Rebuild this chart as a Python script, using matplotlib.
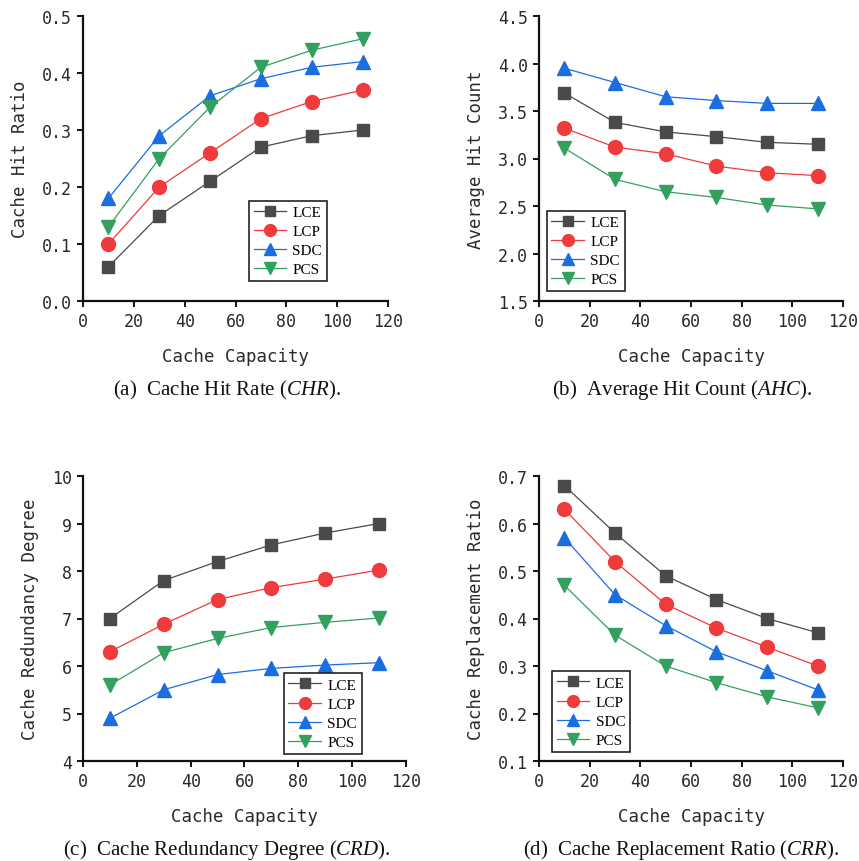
import matplotlib
matplotlib.use('Agg')
import matplotlib.pyplot as plt

plt.rcParams['mathtext.fontset'] = 'custom'
plt.rcParams['mathtext.rm'] = 'Liberation Serif'
plt.rcParams['mathtext.it'] = 'Liberation Serif:italic'

capacity = [10, 30, 50, 70, 90, 110]
methods = ['LCE', 'LCP', 'SDC', 'PCS']

chr_lce = [0.06, 0.15, 0.21, 0.27, 0.29, 0.30]
chr_lcp = [0.10, 0.20, 0.26, 0.32, 0.35, 0.37]
chr_sdc = [0.18, 0.29, 0.36, 0.39, 0.41, 0.42]
chr_pcs = [0.13, 0.25, 0.34, 0.41, 0.44, 0.46]

ahc_lce = [3.69, 3.38, 3.28, 3.23, 3.17, 3.15]
ahc_lcp = [3.32, 3.12, 3.05, 2.92, 2.85, 2.82]
ahc_sdc = [3.95, 3.80, 3.65, 3.61, 3.58, 3.58]
ahc_pcs = [3.11, 2.78, 2.65, 2.59, 2.51, 2.47]

crd_lce = [7.0, 7.8, 8.2, 8.55, 8.8, 9.0]
crd_lcp = [6.3, 6.88, 7.4, 7.65, 7.83, 8.02]
crd_sdc = [4.9, 5.5, 5.82, 5.95, 6.02, 6.07]
crd_pcs = [5.6, 6.28, 6.58, 6.81, 6.92, 7.01]

crr_lce = [0.68, 0.58, 0.49, 0.44, 0.40, 0.37]
crr_lcp = [0.63, 0.52, 0.43, 0.38, 0.34, 0.30]
crr_sdc = [0.57, 0.45, 0.385, 0.33, 0.29, 0.25]
crr_pcs = [0.47, 0.365, 0.30, 0.265, 0.235, 0.212]

colors = ['#4a4a4a', '#ef3b3b', '#1a6ee0', '#33a060']
markers = ['s', 'o', '^', 'v']
msizes = [8.6, 10, 10.5, 10.5]

mono = 'DejaVu Sans Mono'
serif = 'Liberation Serif'
txt_color = '#2a2a2a'

fig = plt.figure(figsize=(8.59, 8.62), dpi=100)
W, H = 859, 862


def px_axes(x0, y0, x1, y1):
    return fig.add_axes([x0 / W, 1 - y1 / H, (x1 - x0) / W, (y1 - y0) / H])


panels = [
    dict(box=(83, 17, 388, 302), data=[chr_lce, chr_lcp, chr_sdc, chr_pcs],
         ylim=(0.0, 0.5), yticks=[0.0, 0.1, 0.2, 0.3, 0.4, 0.5], fmt='%.1f',
         ylabel='Cache Hit Ratio', leg=(0.544, 0.07),
         caption='(a)  Cache Hit Rate ($\\mathit{CHR}$).', cap=(227, 390)),
    dict(box=(539, 17, 843, 302), data=[ahc_lce, ahc_lcp, ahc_sdc, ahc_pcs],
         ylim=(1.5, 4.5), yticks=[1.5, 2.0, 2.5, 3.0, 3.5, 4.0, 4.5], fmt='%.1f',
         ylabel='Average Hit Count', leg=(0.026, 0.035),
         caption='(b)  Average Hit Count ($\\mathit{AHC}$).', cap=(682, 390)),
    dict(box=(83, 477, 406, 762), data=[crd_lce, crd_lcp, crd_sdc, crd_pcs],
         ylim=(4, 10), yticks=[4, 5, 6, 7, 8, 9, 10], fmt='%d',
         ylabel='Cache Redundancy Degree', leg=(0.622, 0.025),
         caption='(c)  Cache Redundancy Degree ($\\mathit{CRD}$).', cap=(227, 850)),
    dict(box=(539, 477, 843, 762), data=[crr_lce, crr_lcp, crr_sdc, crr_pcs],
         ylim=(0.1, 0.7), yticks=[0.1, 0.2, 0.3, 0.4, 0.5, 0.6, 0.7], fmt='%.1f',
         ylabel='Cache Replacement Ratio', leg=(0.043, 0.032),
         caption='(d)  Cache Replacement Ratio ($\\mathit{CRR}$).', cap=(681, 850)),
]

for p in panels:
    ax = px_axes(*p['box'])
    for i, series in enumerate(p['data']):
        ax.plot(capacity, series, color=colors[i], marker=markers[i],
                markersize=msizes[i], linewidth=0.9, label=methods[i],
                clip_on=False, zorder=3)
    ax.set_xlim(0, 120)
    ax.set_ylim(*p['ylim'])
    ax.set_xticks([0, 20, 40, 60, 80, 100, 120])
    ax.set_yticks(p['yticks'])
    ax.set_yticklabels([p['fmt'] % v for v in p['yticks']])
    for s in ['top', 'right']:
        ax.spines[s].set_visible(False)
    for s in ['left', 'bottom']:
        ax.spines[s].set_linewidth(1.6)
        ax.spines[s].set_color('#111111')
    ax.tick_params(direction='out', length=4.5, width=1.4, colors='#111111',
                   labelcolor=txt_color, labelsize=12)
    for lab in ax.get_xticklabels() + ax.get_yticklabels():
        lab.set_fontfamily(mono)
    ax.set_xlabel('Cache Capacity', fontfamily=mono, fontsize=12.5,
                  color=txt_color, labelpad=12)
    ax.set_ylabel(p['ylabel'], fontfamily=mono, fontsize=12.5,
                  color=txt_color, labelpad=9)
    leg = ax.legend(loc='lower left', bbox_to_anchor=p['leg'], borderaxespad=0,
                    prop={'family': serif, 'size': 11}, markerscale=0.85,
                    fancybox=False, edgecolor='#222222', framealpha=1,
                    handlelength=2.1, handletextpad=0.45, labelspacing=0.36,
                    borderpad=0.3)
    leg.get_frame().set_linewidth(1.2)
    fig.text(p['cap'][0] / W, 1 - p['cap'][1] / H, p['caption'],
             fontfamily=serif, fontsize=15, ha='center', va='center',
             color='#111111')

fig.savefig('out.png', dpi=100)
